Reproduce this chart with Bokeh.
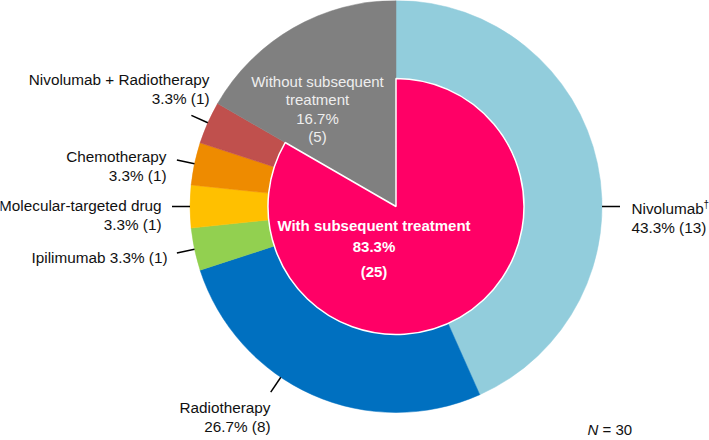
import math
from bokeh.plotting import figure
from bokeh.models import Range1d, ColumnDataSource
from bokeh.core.properties import value
from bokeh.embed import file_html
from bokeh.resources import INLINE

# ---------------- data ----------------
total_n = 30
group_labels = ["With subsequent treatment", "Without subsequent treatment"]
group_counts = [25, 5]
treatments = ["Nivolumab", "Radiotherapy", "Ipilimumab",
              "Molecular-targeted drug", "Chemotherapy", "Nivolumab + Radiotherapy"]
treatment_marks = ["\u2020", "", "", "", "", ""]
treatment_counts = [13, 8, 1, 1, 1, 1]
treatment_colors = ["#92CDDC", "#0070C0", "#92D050", "#FFC000", "#EE8B00", "#C0504D"]
with_color = "#FF0066"
without_color = "#808080"

# ---------------- layout ----------------
IMG_W, IMG_H = 709, 440
FONT = value("Liberation Sans")


def Y(y_img):
    return IMG_H - y_img


CX, CY = 395.5, Y(206)
R_OUT, R_IN = 206, 128

p = figure(width=IMG_W, height=IMG_H, output_backend="svg", toolbar_location=None,
           x_range=Range1d(0, IMG_W), y_range=Range1d(0, IMG_H),
           x_axis_type=None, y_axis_type=None, min_border=0)
p.grid.visible = False
p.outline_line_color = None
p.background_fill_color = "white"
p.border_fill_color = "white"

# outer ring: treatments, clockwise from 12 o'clock
starts, ends = [], []
cum = 0
for c in treatment_counts:
    starts.append(math.pi / 2 - 2 * math.pi * cum / total_n)
    cum += c
    ends.append(math.pi / 2 - 2 * math.pi * cum / total_n)
ring = ColumnDataSource(dict(start=starts, end=ends, color=treatment_colors))
p.annular_wedge(x=CX, y=CY, inner_radius=R_IN, outer_radius=R_OUT,
                start_angle="start", end_angle="end", direction="clock",
                fill_color="color", line_color="color", line_width=0.5, source=ring)

# without subsequent treatment: full wedge
w_start = math.pi / 2 - 2 * math.pi * group_counts[0] / total_n
w_end = math.pi / 2 - 2 * math.pi * total_n / total_n
p.wedge(x=CX, y=CY, radius=R_OUT, start_angle=w_start, end_angle=w_end,
        direction="clock", fill_color=without_color, line_color=without_color, line_width=0.5)

# with subsequent treatment: inner pie
p.wedge(x=CX, y=CY, radius=R_IN, start_angle=math.pi / 2, end_angle=w_start,
        direction="clock", fill_color=with_color, line_color="white", line_width=1.5)

# leader lines
leader_deg = [0, 236, 192, 180, 168, 156]
lx0 = [CX + R_OUT * math.cos(math.radians(a)) for a in leader_deg]
ly0 = [CY + R_OUT * math.sin(math.radians(a)) for a in leader_deg]
lx1 = [CX + (R_OUT + 18) * math.cos(math.radians(a)) for a in leader_deg]
ly1 = [CY + (R_OUT + 18) * math.sin(math.radians(a)) for a in leader_deg]
p.segment(x0=lx0, y0=ly0, x1=lx1, y1=ly1, line_color="black", line_width=1.5)

# treatment labels
lab_pos = [(631, 208, "left"), (270, 407, "right"), (167, 257, "right"),
           (161, 205, "right"), (166, 156, "right"), (209, 79, "right")]
LINE = 18.5
tx, ty, tt, ta = [], [], [], []
for name, c, (x, y, al) in zip(treatments, treatment_counts, lab_pos):
    pct = f"{100 * c / total_n:.1f}% ({c})"
    if name == "Ipilimumab":
        tx.append(x); ty.append(Y(y)); tt.append(f"{name} {pct}"); ta.append(al)
    else:
        tx += [x, x]; ty += [Y(y), Y(y + LINE)]; tt += [name, pct]; ta += [al, al]
p.text(x=tx, y=ty, text=tt, text_align=ta, text_baseline="middle",
       text_font=FONT, text_font_size="15.3px", text_color="#111111")

# footnote dagger after Nivolumab
p.text(x=[lab_pos[0][0] + 72], y=[Y(lab_pos[0][1] - 4)], text=[treatment_marks[0]],
       text_align="left", text_baseline="middle", text_font=FONT,
       text_font_size="10px", text_color="#111111")

# inner texts
wo_l1, wo_l2 = group_labels[1].rsplit(" ", 1)
wo_pct = f"{100 * group_counts[1] / total_n:.1f}%"
p.text(x=[317] * 4, y=[Y(81), Y(99), Y(117.5), Y(136)],
       text=[wo_l1, wo_l2, wo_pct, f"({group_counts[1]})"],
       text_align="center", text_baseline="middle", text_font=FONT,
       text_font_size="15px", text_color="#EEEEEE")

wi_pct = f"{100 * group_counts[0] / total_n:.1f}%"
p.text(x=[373.5] * 3, y=[Y(225), Y(246), Y(271)],
       text=[group_labels[0], wi_pct, f"({group_counts[0]})"],
       text_align="center", text_baseline="middle", text_font=FONT,
       text_font_size="15px", text_font_style="bold", text_color="white")

# N = 30
p.text(x=[587], y=[Y(429)], text=["N"], text_align="left", text_baseline="middle",
       text_font=FONT, text_font_size="15px", text_font_style="italic", text_color="#111111")
p.text(x=[602], y=[Y(429)], text=[f"= {total_n}"], text_align="left", text_baseline="middle",
       text_font=FONT, text_font_size="15px", text_color="#111111")

open("out.html", "w").write(file_html(p, INLINE))
